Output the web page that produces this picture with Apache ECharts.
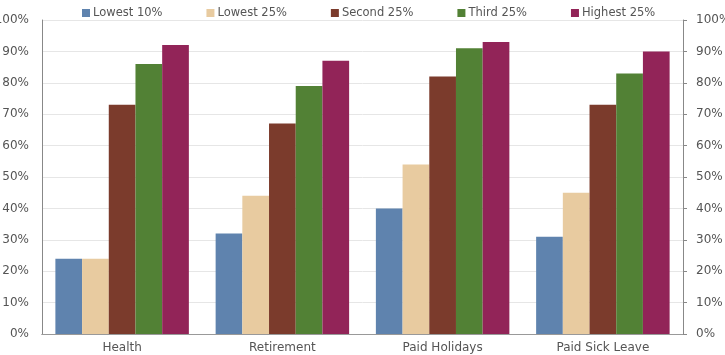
<!DOCTYPE html>
<html><head><meta charset="utf-8">
<script src="https://cdn.jsdelivr.net/npm/echarts@6/dist/echarts.min.js"></script>
<style>html,body{margin:0;padding:0;background:#fff}#c{width:725px;height:355px}</style>
</head><body><div id="c"></div>
<script>
var categories = ['Health', 'Retirement', 'Paid Holidays', 'Paid Sick Leave'];
var seriesNames = ['Lowest 10%', 'Lowest 25%', 'Second 25%', 'Third 25%', 'Highest 25%'];
var lowest10 = [24, 32, 40, 31];
var lowest25 = [24, 44, 54, 45];
var second25 = [73, 67, 82, 73];
var third25 = [86, 79, 91, 83];
var highest25 = [92, 87, 93, 90];
var colors = ['#5F83AE', '#E8CBA0', '#7B3B2C', '#528135', '#922458'];
var values = [lowest10, lowest25, second25, third25, highest25];
var font = 'DejaVu Sans';
var chart = echarts.init(document.getElementById('c'));
var yAx = function (pos) {
  return {
    type: 'value', position: pos, min: 0, max: 100, interval: 10,
    axisLabel: { formatter: '{value}%', color: '#555', fontFamily: font, fontSize: 12, margin: 13 },
    axisLine: { show: true, lineStyle: { color: '#888', width: 1 } },
    axisTick: { show: pos === 'right', length: 4, lineStyle: { color: '#888' } },
    splitLine: { show: pos === 'left', lineStyle: { color: '#e6e6e6' } }
  };
};
chart.setOption({
  animation: false,
  color: colors,
  legend: {
    top: 2, left: 77, itemWidth: 8, itemHeight: 8, itemGap: 44, icon: 'rect',
    textStyle: { color: '#555', fontFamily: font, fontSize: 11.5, padding: [0, 0, 0, -2] },
    data: seriesNames
  },
  grid: { left: 42, right: 42, top: 20, bottom: 21, containLabel: false, outerBoundsMode: 'none' },
  xAxis: [{
    type: 'category', data: categories,
    axisLine: { lineStyle: { color: '#888' } },
    axisTick: { show: false },
    axisLabel: { color: '#555', fontFamily: font, fontSize: 12, margin: 8 }
  }, {
    type: 'category', data: categories, position: 'top',
    axisLine: { lineStyle: { color: '#999' } },
    axisTick: { show: false }, axisLabel: { show: false }
  }],
  yAxis: [yAx('left'), yAx('right')],
  series: seriesNames.map(function (n, i) {
    return { name: n, type: 'bar', data: values[i], barGap: '0%', barCategoryGap: '16.7%' };
  })
});
</script></body></html>
